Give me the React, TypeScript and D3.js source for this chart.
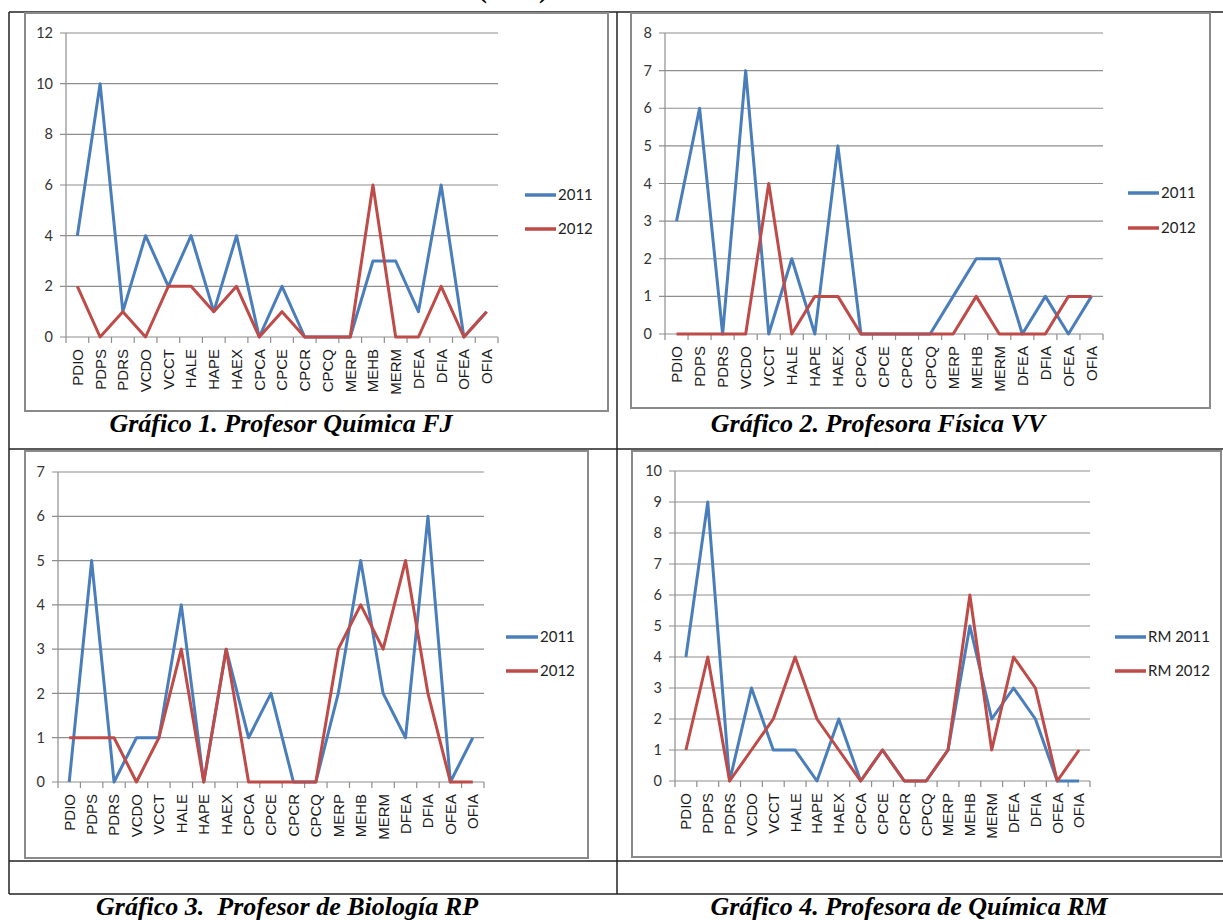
import React from "react";
import * as d3 from "d3";

const categories = ["PDIO","PDPS","PDRS","VCDO","VCCT","HALE","HAPE","HAEX","CPCA","CPCE","CPCR","CPCQ","MERP","MEHB","MERM","DFEA","DFIA","OFEA","OFIA"];

const fj2011 = [4,10,1,4,2,4,1,4,0,2,0,0,0,3,3,1,6,0,1];
const fj2012 = [2,0,1,0,2,2,1,2,0,1,0,0,0,6,0,0,2,0,1];

const vv2011 = [3,6,0,7,0,2,0,5,0,0,0,0,1,2,2,0,1,0,1];
const vv2012 = [0,0,0,0,4,0,1,1,0,0,0,0,0,1,0,0,0,1,1];

const rp2011 = [0,5,0,1,1,4,0,3,1,2,0,0,2,5,2,1,6,0,1];
const rp2012 = [1,1,1,0,1,3,0,3,0,0,0,0,3,4,3,5,2,0,0];

const rm2011 = [4,9,0,3,1,1,0,2,0,1,0,0,1,5,2,3,2,0,0];
const rm2012 = [1,4,0,1,2,4,2,1,0,1,0,0,1,6,1,4,3,0,1];

const ticksFJ = [0,2,4,6,8,10,12];
const ticksVV = [0,1,2,3,4,5,6,7,8];
const ticksRP = [0,1,2,3,4,5,6,7];
const ticksRM = [0,1,2,3,4,5,6,7,8,9,10];

const legendYears = ["2011","2012"];
const legendRM = ["RM 2011","RM 2012"];

const captions = [
  "Gráfico 1. Profesor Química FJ",
  "Gráfico 2. Profesora Física VV",
  "Gráfico 3.  Profesor de Biología RP",
  "Gráfico 4. Profesora de Química RM",
];

const BLUE = "#4A7EBB";
const RED = "#BE4B48";
const GRID = "#8e8e8e";

type Layout = {
  frame: [number, number, number, number];
  plot: { x0: number; x1: number; y0: number; y1: number };
  legend: { lx0: number; lx1: number; ya: number; yb: number };
};

function Chart({ layout, ticks, s1, s2, names }: { layout: Layout; ticks: number[]; s1: number[]; s2: number[]; names: string[] }) {
  const { frame, plot, legend } = layout;
  const x = d3.scaleBand<string>().domain(categories).range([plot.x0, plot.x1]).paddingInner(0).paddingOuter(0);
  const y = d3.scaleLinear().domain([0, d3.max(ticks)!]).range([plot.y0, plot.y1]);
  const cx = (i: number) => (x(categories[i]) as number) + x.bandwidth() / 2;
  const line = d3.line<number>().x((_, i) => cx(i)).y((d) => y(d));
  const bounds = categories.map((c) => x(c) as number).concat([plot.x1]);
  return (
    <g>
      <rect x={frame[0]} y={frame[1]} width={frame[2] - frame[0]} height={frame[3] - frame[1]} fill="none" stroke="#8a8a8a" strokeWidth={2} />
      {ticks.map((t) => (
        <g key={"g" + t}>
          <line x1={plot.x0 - 6} x2={plot.x1} y1={y(t)} y2={y(t)} stroke={GRID} strokeWidth={1.2} />
          <text x={plot.x0 - 13} y={y(t)} dy="0.35em" textAnchor="end" fontFamily="Lato" fontSize={14.5} fill="#333">{t}</text>
        </g>
      ))}
      <line x1={plot.x0} x2={plot.x0} y1={plot.y1} y2={plot.y0} stroke={GRID} strokeWidth={1.2} />
      {bounds.map((b, i) => (
        <line key={"t" + i} x1={b} x2={b} y1={plot.y0} y2={plot.y0 + 6} stroke={GRID} strokeWidth={1.2} />
      ))}
      {categories.map((c, i) => (
        <text key={c} transform={`translate(${cx(i)},${plot.y0 + 12}) rotate(-90)`} textAnchor="end" dy="0.36em" fontFamily="Liberation Sans" fontSize={15} fill="#1a1a1a">{c}</text>
      ))}
      <path d={line(s1) || ""} fill="none" stroke={BLUE} strokeWidth={3} strokeLinejoin="round" />
      <path d={line(s2) || ""} fill="none" stroke={RED} strokeWidth={3} strokeLinejoin="round" />
      {[0, 1].map((k) => {
        const ly = k === 0 ? legend.ya : legend.yb;
        return (
          <g key={"l" + k}>
            <line x1={legend.lx0} x2={legend.lx1} y1={ly} y2={ly} stroke={k === 0 ? BLUE : RED} strokeWidth={3.5} />
            <text x={legend.lx1 + 2} y={ly} dy="0.35em" fontFamily="Lato" fontSize={15} fill="#222">{names[k]}</text>
          </g>
        );
      })}
    </g>
  );
}

const layoutFJ: Layout = { frame: [25, 13, 608, 411], plot: { x0: 66, x1: 498, y0: 337, y1: 33 }, legend: { lx0: 525, lx1: 556, ya: 195, yb: 229 } };
const layoutVV: Layout = { frame: [631, 13, 1210, 408], plot: { x0: 665, x1: 1103, y0: 334, y1: 33 }, legend: { lx0: 1128, lx1: 1159, ya: 193, yb: 228 } };
const layoutRP: Layout = { frame: [25, 451, 588, 858], plot: { x0: 58, x1: 484, y0: 782, y1: 472 }, legend: { lx0: 506, lx1: 538, ya: 637, yb: 671 } };
const layoutRM: Layout = { frame: [632, 451, 1221, 857], plot: { x0: 675, x1: 1090, y0: 781, y1: 471 }, legend: { lx0: 1115, lx1: 1146, ya: 637, yb: 671 } };

export default function App() {
  const capStyle = { fontFamily: "Liberation Serif", fontWeight: 700, fontStyle: "italic" as const, fontSize: 26, fill: "#000" };
  return (
    <div style={{ position: "absolute", left: 0, top: 0 }}>
      <svg width={1223} height={920} style={{ display: "block", background: "#fff" }}>
        <text x={513} y={-2} textAnchor="middle" fontFamily="Liberation Serif" fontWeight={700} fontSize={26}>(2012)</text>
        {/* table lines */}
        <g stroke="#222" strokeWidth={1.5}>
          <line x1={9} x2={1223} y1={12} y2={12} />
          <line x1={9} x2={9} y1={12} y2={894} />
          <line x1={617} x2={617} y1={12} y2={894} />
          <line x1={9} x2={1223} y1={449} y2={449} />
          <line x1={9} x2={1223} y1={861} y2={861} />
          <line x1={9} x2={1223} y1={894} y2={894} />
        </g>
        <Chart layout={layoutFJ} ticks={ticksFJ} s1={fj2011} s2={fj2012} names={legendYears} />
        <Chart layout={layoutVV} ticks={ticksVV} s1={vv2011} s2={vv2012} names={legendYears} />
        <Chart layout={layoutRP} ticks={ticksRP} s1={rp2011} s2={rp2012} names={legendYears} />
        <Chart layout={layoutRM} ticks={ticksRM} s1={rm2011} s2={rm2012} names={legendRM} />
        <text x={281} y={432} textAnchor="middle" {...capStyle}>{captions[0]}</text>
        <text x={878} y={432} textAnchor="middle" {...capStyle}>{captions[1]}</text>
        <text x={287} y={915} textAnchor="middle" {...capStyle} style={{ whiteSpace: "pre" }}>{captions[2]}</text>
        <text x={909} y={915} textAnchor="middle" {...capStyle}>{captions[3]}</text>
      </svg>
    </div>
  );
}
